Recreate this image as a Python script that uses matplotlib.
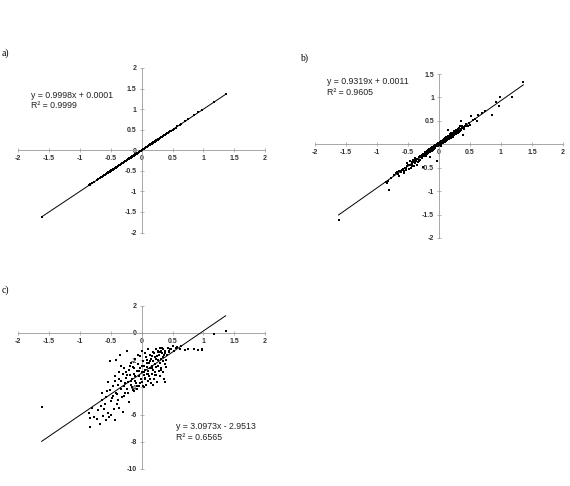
import numpy as np
import matplotlib
matplotlib.use('Agg')
import matplotlib.pyplot as plt

plt.rcParams['font.family'] = ['Liberation Sans', 'DejaVu Sans']

# observed values (same x for all three panels)
x = [-1.62, -0.85, -0.84, -0.83, -0.80, -0.77, -0.72, -0.70, -0.68, -0.66,
     -0.64, -0.62, -0.60, -0.58, -0.57, -0.55, -0.54, -0.52, -0.51, -0.50,
     -0.49, -0.47, -0.46, -0.45, -0.44, -0.43, -0.42, -0.41, -0.40, -0.39,
     -0.38, -0.37, -0.36, -0.35, -0.34, -0.33, -0.32, -0.31, -0.30, -0.29,
     -0.28, -0.27, -0.26, -0.25, -0.24, -0.23, -0.22, -0.21, -0.20, -0.19,
     -0.18, -0.17, -0.16, -0.15, -0.14, -0.13, -0.12, -0.11, -0.10, -0.09,
     -0.08, -0.07, -0.06, -0.05, -0.04, -0.03, -0.02, -0.01, 0.00, 0.01,
     0.02, 0.03, 0.03, 0.04, 0.05, 0.05, 0.06, 0.07, 0.08, 0.08,
     0.09, 0.10, 0.10, 0.11, 0.12, 0.12, 0.13, 0.14, 0.15, 0.15,
     0.16, 0.17, 0.18, 0.18, 0.19, 0.20, 0.21, 0.22, 0.22, 0.23,
     0.24, 0.25, 0.25, 0.26, 0.27, 0.28, 0.28, 0.29, 0.30, 0.30,
     0.31, 0.32, 0.32, 0.33, 0.34, 0.34, 0.35, 0.36, 0.36, 0.37,
     0.38, 0.38, 0.40, 0.42, 0.45, 0.48, 0.50, 0.52, 0.55, 0.58,
     0.62, 0.63, 0.70, 0.75, 0.85, 0.92, 0.97, 0.98, 1.17, 1.36,
     -0.65, -0.61, -0.56, -0.53, -0.48, -0.44, -0.40, -0.37, -0.33, -0.29,
     -0.27, -0.24, -0.22, -0.19, -0.17, -0.14, -0.12, -0.10, -0.08, -0.06,
     -0.04, -0.02, 0.00, 0.01, 0.02, 0.04, 0.06, 0.07, 0.09, 0.11,
     0.13, 0.14, 0.16, 0.17, 0.19, 0.20, 0.21, 0.23, 0.24, 0.26,
     0.27, 0.29, 0.31, 0.33, 0.35, 0.37, 0.39, 0.41, 0.44, 0.46]

# a) nearly identical to x
y_a = [-1.62, -0.85, -0.84, -0.83, -0.80, -0.77, -0.72, -0.70, -0.68, -0.66,
       -0.64, -0.62, -0.60, -0.58, -0.57, -0.55, -0.54, -0.52, -0.51, -0.50,
       -0.49, -0.47, -0.46, -0.45, -0.44, -0.43, -0.42, -0.41, -0.40, -0.39,
       -0.38, -0.37, -0.36, -0.35, -0.34, -0.33, -0.32, -0.31, -0.30, -0.29,
       -0.28, -0.27, -0.26, -0.25, -0.24, -0.23, -0.22, -0.21, -0.20, -0.19,
       -0.18, -0.17, -0.16, -0.15, -0.14, -0.13, -0.12, -0.11, -0.10, -0.09,
       -0.08, -0.07, -0.06, -0.05, -0.04, -0.03, -0.02, -0.01, 0.00, 0.01,
       0.02, 0.03, 0.03, 0.04, 0.05, 0.05, 0.06, 0.07, 0.08, 0.08,
       0.09, 0.10, 0.10, 0.11, 0.12, 0.12, 0.13, 0.14, 0.15, 0.15,
       0.16, 0.17, 0.18, 0.18, 0.19, 0.20, 0.21, 0.22, 0.22, 0.23,
       0.24, 0.25, 0.25, 0.26, 0.27, 0.28, 0.28, 0.29, 0.30, 0.30,
       0.31, 0.32, 0.32, 0.33, 0.34, 0.34, 0.35, 0.36, 0.36, 0.37,
       0.38, 0.38, 0.40, 0.42, 0.45, 0.48, 0.50, 0.52, 0.55, 0.58,
       0.62, 0.63, 0.70, 0.75, 0.85, 0.92, 0.97, 0.98, 1.17, 1.36,
       -0.65, -0.61, -0.56, -0.53, -0.48, -0.44, -0.40, -0.37, -0.33, -0.29,
       -0.27, -0.24, -0.22, -0.19, -0.17, -0.14, -0.12, -0.10, -0.08, -0.06,
       -0.04, -0.02, 0.00, 0.01, 0.02, 0.04, 0.06, 0.07, 0.09, 0.11,
       0.13, 0.14, 0.16, 0.17, 0.19, 0.20, 0.21, 0.23, 0.24, 0.26,
       0.27, 0.29, 0.31, 0.33, 0.35, 0.37, 0.39, 0.41, 0.44, 0.46]

y_b = [-1.62, -0.80, -0.83, -0.78, -0.97, -0.71, -0.66, -0.62, -0.60, -0.63,
       -0.58, -0.60, -0.55, -0.52, -0.62, -0.50, -0.55, -0.47, -0.40, -0.45,
       -0.52, -0.36, -0.44, -0.50, -0.38, -0.41, -0.34, -0.47, -0.33, -0.40,
       -0.30, -0.36, -0.44, -0.31, -0.38, -0.28, -0.34, -0.25, -0.33, -0.27,
       -0.22, -0.30, -0.20, -0.48, -0.21, -0.26, -0.17, -0.24, -0.14, -0.20,
       -0.12, -0.18, -0.10, -0.28, -0.13, -0.08, -0.15, -0.05, -0.12, -0.07,
       -0.10, -0.02, -0.08, -0.03, -0.35, 0.00, -0.04, 0.02, -0.02, 0.04,
       0.00, 0.06, -0.03, 0.05, 0.02, 0.08, 0.03, 0.10, 0.05, 0.12,
       0.07, 0.14, 0.05, 0.09, 0.16, 0.08, 0.11, 0.30, 0.13, 0.18,
       0.12, 0.20, 0.15, 0.22, 0.14, 0.24, 0.18, 0.25, 0.16, 0.21,
       0.28, 0.20, 0.27, 0.23, 0.30, 0.22, 0.29, 0.26, 0.32, 0.25,
       0.30, 0.27, 0.34, 0.29, 0.38, 0.28, 0.33, 0.50, 0.30, 0.35,
       0.20, 0.36, 0.33, 0.40, 0.38, 0.46, 0.42, 0.60, 0.52, 0.55,
       0.50, 0.62, 0.66, 0.72, 0.62, 0.90, 0.82, 1.00, 1.00, 1.32,
       -0.68, -0.57, -0.58, -0.50, -0.45, -0.47, -0.37, -0.32, -0.35, -0.24,
       -0.26, -0.25, -0.20, -0.16, -0.15, -0.16, -0.09, -0.08, -0.04, -0.06,
       -0.01, 0.01, 0.03, -0.01, 0.05, 0.01, 0.07, 0.04, 0.11, 0.13,
       0.09, 0.15, 0.17, 0.13, 0.21, 0.17, 0.23, 0.19, 0.25, 0.27,
       0.24, 0.31, 0.26, 0.35, 0.31, 0.40, 0.34, 0.37, 0.43, 0.40]

y_c = [-5.45, -5.90, -6.25, -6.90, -5.50, -6.20, -6.30, -5.70, -6.70, -5.40,
       -4.90, -6.10, -5.20, -4.70, -6.40, -3.60, -5.90, -4.20, -2.10, -5.00,
       -6.00, -3.90, -4.60, -5.60, -3.20, -6.40, -2.00, -4.40, -5.20, -3.80,
       -4.90, -2.90, -5.50, -1.65, -4.10, -3.50, -4.70, -3.00, -5.80, -3.90,
       -2.60, -4.40, -3.30, -2.90, -1.35, -4.10, -3.60, -2.70, -5.10, -3.10,
       -3.80, -2.20, -4.00, -3.40, -2.50, -4.30, -3.00, -3.50, -1.90, -3.70,
       -2.80, -4.10, -2.30, -3.20, -3.90, -2.60, -1.70, -3.40, -2.90, -3.60,
       -2.10, -3.10, -4.00, -2.40, -3.30, -1.50, -2.70, -3.80, -2.00, -3.00,
       -2.50, -3.50, -1.20, -2.80, -2.20, -3.20, -1.60, -2.60, -3.70, -1.90,
       -2.40, -3.00, -1.40, -2.70, -2.10, -3.40, -1.80, -2.30, -3.10, -1.20,
       -2.50, -1.70, -3.60, -2.00, -1.40, -2.80, -1.60, -2.20, -1.10, -3.20,
       -1.90, -1.30, -2.60, -1.50, -2.90, -1.80, -1.20, -3.40, -1.60, -2.30,
       -3.60, -1.30, -2.00, -1.10, -1.40, -1.20, -0.95, -1.30, -1.10, -1.00,
       -1.20, -0.95, -1.25, -1.20, -1.15, -1.22, -1.20, -1.25, -0.08, 0.13,
       -4.40, -5.60, -4.30, -6.20, -4.80, -3.50, -4.50, -3.40, -2.40, -4.60,
       -3.70, -3.10, -4.40, -2.40, -3.50, -4.20, -2.60, -3.20, -3.90, -1.60,
       -2.80, -3.70, -2.40, -1.30, -3.90, -2.90, -3.40, -1.80, -2.20, -3.00,
       -2.10, -3.40, -1.70, -2.60, -3.80, -1.50, -2.90, -1.90, -3.10, -1.30,
       -2.40, -1.40, -2.70, -1.10, -2.10, -1.50, -2.50, -1.60, -1.30, -1.15]

# trendline coefficients as printed on the chart
fits = [(0.9998, 0.0001, 0.9999), (0.9319, 0.0011, 0.9605), (3.0973, -2.9513, 0.6565)]


def draw_panel(ax, xs, ys, fit, ylim, yticks, ylabels, eq_pos):
    m, b, r2 = fit
    ax.scatter(xs, ys, s=2.5, marker='s', color='black', linewidths=0, zorder=3)
    x0, x1 = min(xs), max(xs)
    ax.plot([x0, x1], [m * x0 + b, m * x1 + b], color='black', lw=0.7, zorder=4)
    ax.set_xlim(-2, 2)
    ax.set_ylim(*ylim)
    ax.spines['left'].set_position(('data', 0))
    ax.spines['bottom'].set_position(('data', 0))
    ax.spines['top'].set_visible(False)
    ax.spines['right'].set_visible(False)
    for s in ['left', 'bottom']:
        ax.spines[s].set_color('#999999')
        ax.spines[s].set_linewidth(0.6)
    ax.set_xticks([-2, -1.5, -1, -0.5, 0, 0.5, 1, 1.5, 2])
    ax.set_xticklabels(['-2', '-1.5', '-1', '-0.5', '0', '0.5', '1', '1.5', '2'])
    ax.set_yticks(yticks)
    ax.set_yticklabels(ylabels)
    ax.tick_params(direction='inout', length=3, width=0.5, color='#999999',
                   labelsize=5, pad=2)
    for lab in ax.get_xticklabels() + ax.get_yticklabels():
        lab.set_fontweight('bold')
        lab.set_color('#333333')
    sign = '+' if b >= 0 else '-'
    ax.text(eq_pos[0], eq_pos[1], 'y = %.4fx %s %.4f\nR² = %.4f' % (m, sign, abs(b), r2),
            fontsize=6.3, color='#222222', va='top', linespacing=1.2,
            transform=ax.transAxes)
    ax.patch.set_alpha(0)


fig = plt.figure(figsize=(5.7, 4.86), dpi=100)

ax_a = fig.add_axes([0.0319, 0.5216, 0.4333, 0.3385])
draw_panel(ax_a, x, y_a, fits[0], (-2, 2), [-2, -1.5, -1, -0.5, 0, 0.5, 1, 1.5, 2],
           ['-2', '-1.5', '-1', '-0.5', '0', '0.5', '1', '1.5', '2'], (0.05, 0.86))

ax_b = fig.add_axes([0.5526, 0.5103, 0.4351, 0.3374])
draw_panel(ax_b, x, y_b, fits[1], (-2, 1.5), [-2, -1.5, -1, -0.5, 0, 0.5, 1, 1.5],
           ['-2', '-1.5', '-1', '-0.5', '', '0.5', '1', '1.5'], (0.05, 0.98))

ax_c = fig.add_axes([0.0319, 0.035, 0.4333, 0.336])
draw_panel(ax_c, x, y_c, fits[2], (-10, 2), [-10, -8, -6, -4, -2, 0, 2],
           ['-10', '-8', '-6', '-4', '-2', '0', '2'], (0.64, 0.285))

fig.text(0.002, 1 - 53 / 486, 'a)', family='Liberation Serif', fontsize=7, va='center')
fig.text(0.526, 1 - 58 / 486, 'b)', family='Liberation Serif', fontsize=7, va='center')
fig.text(0.002, 1 - 290 / 486, 'c)', family='Liberation Serif', fontsize=7, va='center')

fig.savefig('out.png', dpi=100)
